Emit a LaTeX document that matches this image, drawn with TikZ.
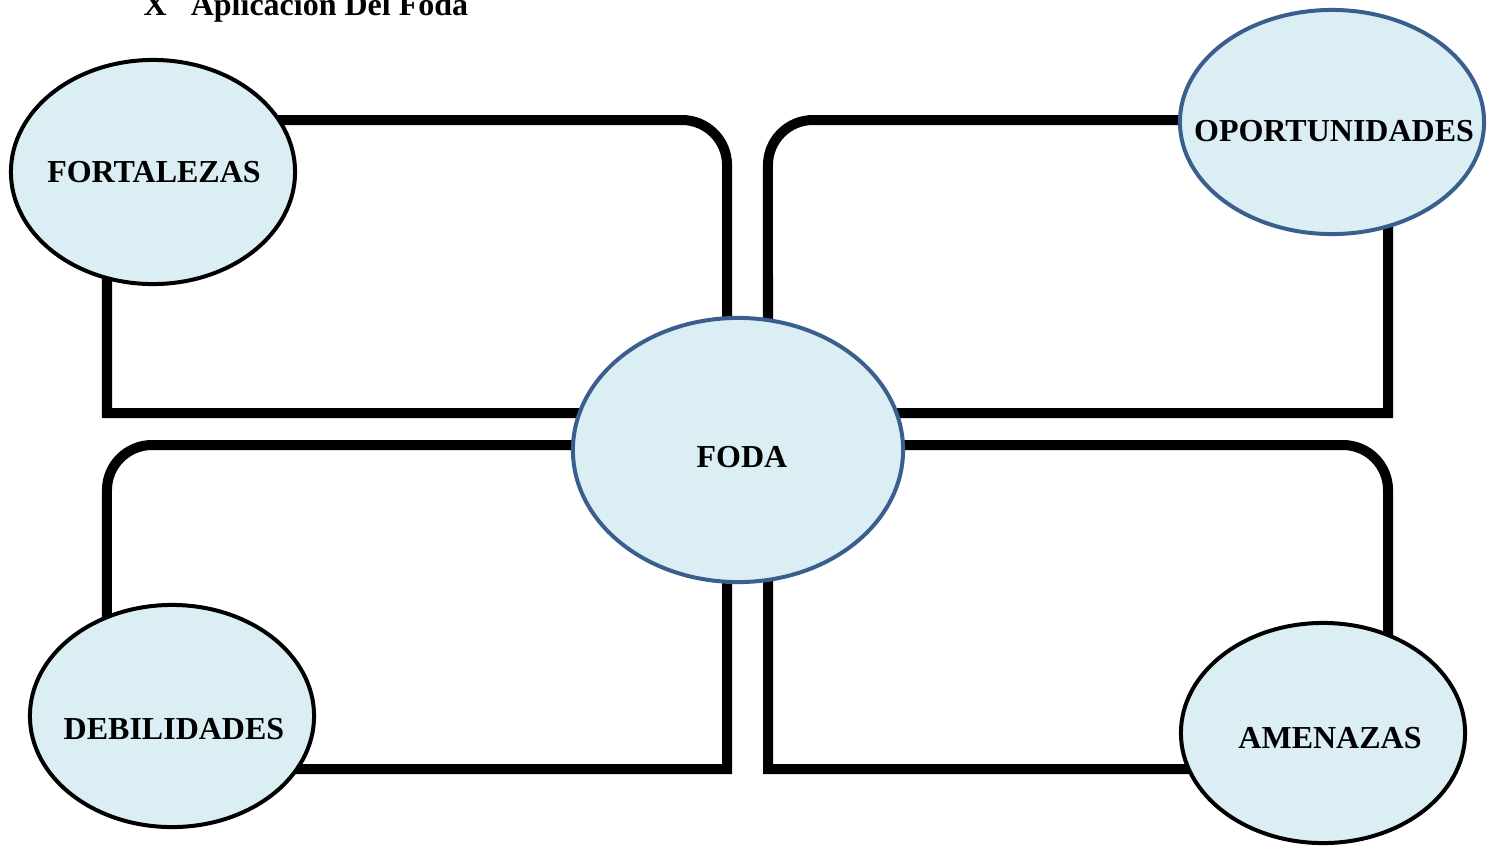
\documentclass[tikz,border=0pt]{standalone}
\usepackage{fontspec}
\setmainfont{Liberation Serif}
\usetikzlibrary{shapes.geometric}
\definecolor{elfill}{HTML}{DBEEF4}
\definecolor{elblue}{HTML}{3A5F8E}
\tikzset{
  frame/.style={line width=0.1cm, line join=miter},
  oval/.style={ellipse, fill=elfill, line width=0.04cm, inner sep=0pt},
  blackoval/.style={oval, draw=black},
  blueoval/.style={oval, draw=elblue},
  lbl/.style={font=\fontsize{9.1}{11}\selectfont\bfseries, inner sep=0pt}
}
\begin{document}
\begin{tikzpicture}[x=0.01cm, y=0.01cm]
\useasboundingbox (0,0) rectangle (1497,847);
% title
\node[lbl, anchor=base west] (title) at (143,832) {X\hspace*{0.24cm}Aplicacion Del Foda};
% frames
\draw[frame] (107,434) -- (107,727) -- (682,727) arc[start angle=90,end angle=0,radius=0.45cm] -- (727,434) -- cycle;
\draw[frame] (1388,434) -- (1388,727) -- (813,727) arc[start angle=90,end angle=180,radius=0.45cm] -- (768,434) -- cycle;
\draw[frame] (727,402) -- (152,402) arc[start angle=90,end angle=180,radius=0.45cm] -- (107,78) -- (727,78) -- cycle;
\draw[frame] (768,402) -- (1343,402) arc[start angle=90,end angle=0,radius=0.45cm] -- (1388,78) -- (768,78) -- cycle;
% ellipses
\node[blackoval, minimum width=2.84cm, minimum height=2.24cm,
  label={[lbl, yshift=0cm, xshift=0.01cm]center:FORTALEZAS}] (fort) at (153,675) {};
\node[blueoval, minimum width=3.04cm, minimum height=2.24cm,
  label={[lbl, yshift=-0.09cm, xshift=0.02cm]center:OPORTUNIDADES}] (opor) at (1332,725) {};
\node[blueoval, minimum width=3.30cm, minimum height=2.64cm,
  label={[lbl, yshift=-0.07cm, xshift=0.04cm]center:FODA}] (foda) at (738,397) {};
\node[blackoval, minimum width=2.84cm, minimum height=2.22cm,
  label={[lbl, yshift=-0.13cm, xshift=0.02cm]center:DEBILIDADES}] (debi) at (172,131) {};
\node[blackoval, minimum width=2.84cm, minimum height=2.20cm,
  label={[lbl, yshift=-0.05cm, xshift=0.07cm]center:AMENAZAS}] (amen) at (1323,114) {};
\end{tikzpicture}
\end{document}
